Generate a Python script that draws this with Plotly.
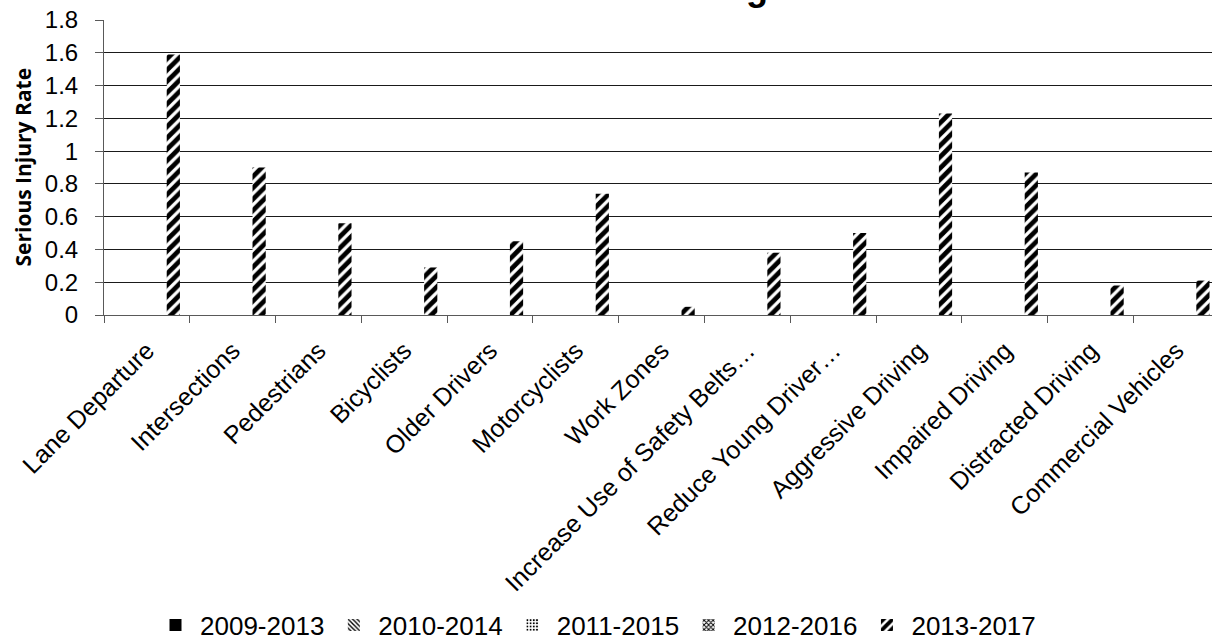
import plotly.graph_objects as go

categories = ["Lane Departure", "Intersections", "Pedestrians", "Bicyclists", "Older Drivers",
              "Motorcyclists", "Work Zones", "Increase Use of Safety Belts…", "Reduce Young Driver…",
              "Aggressive Driving", "Impaired Driving", "Distracted Driving", "Commercial Vehicles"]

series_names = ["2009-2013", "2010-2014", "2011-2015", "2012-2016", "2013-2017"]
v_2009_2013 = [0, 0, 0, 0, 0, 0, 0, 0, 0, 0, 0, 0, 0]
v_2010_2014 = [0, 0, 0, 0, 0, 0, 0, 0, 0, 0, 0, 0, 0]
v_2011_2015 = [0, 0, 0, 0, 0, 0, 0, 0, 0, 0, 0, 0, 0]
v_2012_2016 = [0, 0, 0, 0, 0, 0, 0, 0, 0, 0, 0, 0, 0]
v_2013_2017 = [1.59, 0.90, 0.56, 0.29, 0.45, 0.74, 0.05, 0.38, 0.50, 1.23, 0.87, 0.18, 0.21]

y_ticks = [0, 0.2, 0.4, 0.6, 0.8, 1.0, 1.2, 1.4, 1.6, 1.8]
y_tick_labels = ["0", "0.2", "0.4", "0.6", "0.8", "1", "1.2", "1.4", "1.6", "1.8"]

styles = [
    dict(shape="", fgcolor="black", bgcolor="black", solidity=1),
    dict(shape="\\", fgcolor="black", bgcolor="white", size=4, solidity=0.45, fgopacity=1),
    dict(shape=".", fgcolor="black", bgcolor="white", size=4, solidity=0.3, fgopacity=1),
    dict(shape="x", fgcolor="black", bgcolor="white", size=4, solidity=0.5, fgopacity=1),
    dict(shape="/", fgcolor="black", bgcolor="white", size=8, solidity=0.6, fgopacity=1),
]
all_vals = [v_2009_2013, v_2010_2014, v_2011_2015, v_2012_2016, v_2013_2017]

fig = go.Figure()
for name, vals, st in zip(series_names, all_vals, styles):
    fig.add_trace(go.Bar(
        x=categories, y=vals, name=name,
        marker=dict(color="black" if st["shape"] == "" else "white",
                    line=dict(width=0), pattern=st),
    ))

font_main = "Liberation Sans, Arial, sans-serif"
fig.update_layout(
    width=1212, height=642,
    margin=dict(l=104, r=0, t=20, b=327, autoexpand=False),
    plot_bgcolor="white", paper_bgcolor="white",
    barmode="group", bargap=0.23, bargroupgap=0,
    font=dict(family=font_main, color="black", size=24),
    title=dict(text="<b>Statewide Trending</b>", x=603 / 1212, xanchor="center",
               y=1.0, yanchor="bottom", yref="container",
               font=dict(size=36, family=font_main, color="black")),
    showlegend=True,
    legend=dict(orientation="h", x=(151 - 104) / 1108, xanchor="left",
                y=(315 - 625) / 295, yanchor="middle", itemwidth=39,
                font=dict(size=26, family=font_main), itemclick=False, traceorder="normal"),
    xaxis=dict(type="category", range=[-0.5, 12.414], tickangle=-45,
               ticks="outside", tickson="boundaries", ticklen=7, tickcolor="#595959",
               showline=True, linecolor="#595959", linewidth=1, ticklabelstandoff=10,
               tickfont=dict(size=25, family=font_main), automargin=False),
    yaxis=dict(range=[0, 1.8], tickvals=y_ticks, ticktext=y_tick_labels,
               ticks="outside", ticklen=8, tickcolor="#595959",
               showline=True, linecolor="#595959", linewidth=1, ticklabelstandoff=12,
               showgrid=True, gridcolor="#1a1a1a", gridwidth=1, zeroline=False,
               tickfont=dict(size=24, family=font_main), automargin=False),
)
fig.add_annotation(text="<b>Serious Injury Rate</b>", textangle=-90, xref="paper", yref="paper",
                   x=(22 - 104) / 1108, y=0.5, xanchor="center", yanchor="middle",
                   showarrow=False, font=dict(size=21, family="Open Sans, sans-serif", color="black"))

fig.write_html("out.html")
